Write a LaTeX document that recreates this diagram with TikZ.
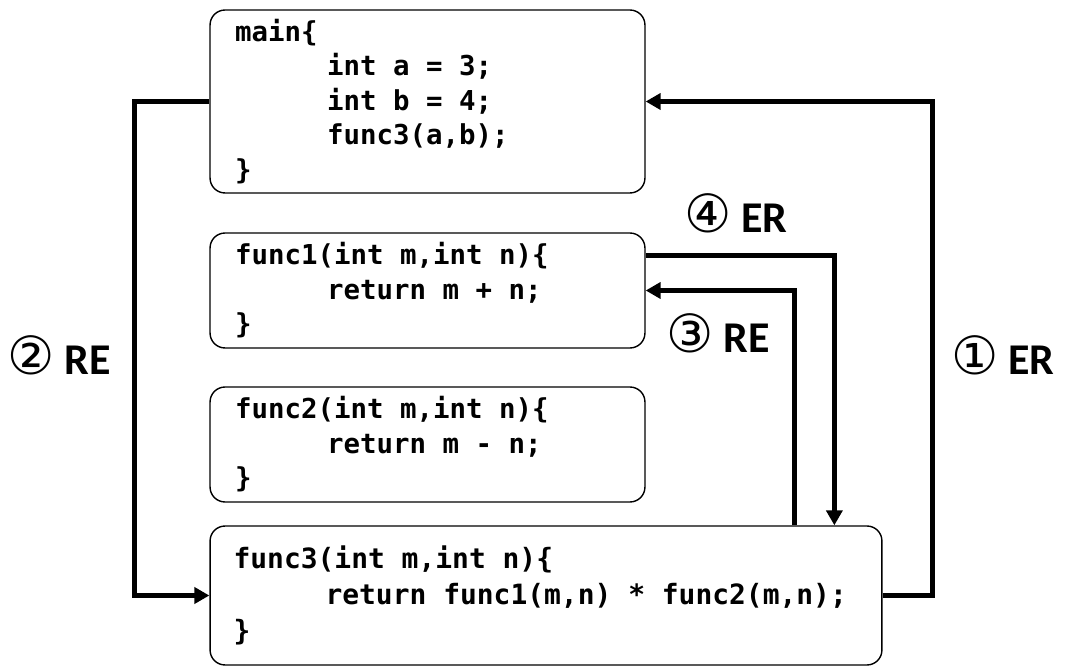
\documentclass[tikz,border=0pt]{standalone}
\usepackage{fontspec}
\setmonofont{DejaVu Sans Mono}
\newfontfamily\lblfont{Carlito}
\newfontfamily\circfont{DejaVu Sans}
\usetikzlibrary{arrows.meta,calc}
\newcommand{\ind}{\hspace*{1.84cm}}
\newcommand{\codefont}{\ttfamily\bfseries\fontsize{15.6}{19.6}\selectfont}
\newcommand{\circnum}[1]{{\circfont\fontsize{30}{30}\selectfont\mdseries #1}}
\tikzset{
 codebox/.style={draw,thick,rounded corners=0.3cm,align=left,inner xsep=0.5cm,font=\codefont,
   execute at begin node={\spaceskip=0.602em\xspaceskip=0.602em\relax}},
 flow/.style={line width=2.8pt,-{Triangle[length=0.3cm,width=0.32cm]}},
 lbl/.style={font=\lblfont\bfseries\fontsize{25}{28}\selectfont}
}
\begin{document}
\begin{tikzpicture}[x=0.02cm,y=-0.02cm]
 \useasboundingbox (0,0) rectangle (1065,668);
 \node[codebox,minimum width=8.7cm,minimum height=3.66cm,text width=7.7cm] (main) at (427.5,101.5)
  {main\{\\ \ind int a = 3;\\ \ind int b = 4;\\ \ind func3(a,b);\\ \}};
 \node[codebox,minimum width=8.7cm,minimum height=2.3cm,text width=7.7cm] (func1) at (427.5,290.5)
  {func1(int m,int n)\{\\ \ind return m + n;\\ \}};
 \node[codebox,minimum width=8.7cm,minimum height=2.3cm,text width=7.7cm] (func2) at (427.5,444.5)
  {func2(int m,int n)\{\\ \ind return m - n;\\ \}};
 \node[codebox,minimum width=13.44cm,minimum height=2.78cm,text width=12.5cm,inner xsep=0.47cm,
   font=\codefont\fontsize{15.9}{20.6}\selectfont] (func3) at (546,595.5)
  {func3(int m,int n)\{\\ \ind return func1(m,n) * func2(m,n);\\ \}};
 % calls and returns
 \draw[flow] (func3.east) -- ++(50,0) |- (main.east);
 \draw[flow] (main.west) -- ++(-75,0) |- (func3.west);
 \draw[flow] ($(func3.north west)+(585,0)$) |- (func1.east);
 \draw[flow] ($(func1.north east)+(0,23)$) -| ($(func3.north west)+(625,0)$);
 \node[lbl] (l1) at (1003,355) {\circnum{①} ER};
 \node[lbl] (l2) at (59,355) {\circnum{②} RE};
 \node[lbl] (l3) at (718,333) {\circnum{③} RE};
 \node[lbl] (l4) at (736,213) {\circnum{④} ER};
\end{tikzpicture}
\end{document}
